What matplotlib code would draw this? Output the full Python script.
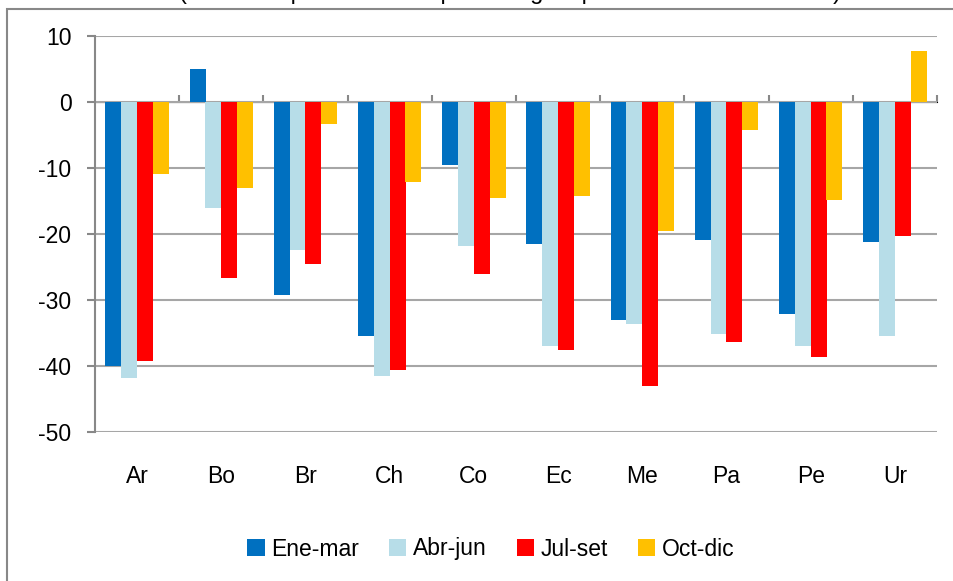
import numpy as np
import matplotlib
matplotlib.use("Agg")
import matplotlib.pyplot as plt
from matplotlib.patches import Rectangle

plt.rcParams['font.family'] = ['Liberation Sans', 'DejaVu Sans']
plt.rcParams['axes.unicode_minus'] = False

# datos: variación porcentual respecto a igual período del año anterior
paises = ['Ar', 'Bo', 'Br', 'Ch', 'Co', 'Ec', 'Me', 'Pa', 'Pe', 'Ur']
trimestres = ['Ene-mar', 'Abr-jun', 'Jul-set', 'Oct-dic']
ene_mar = [-40.0, 5.0, -29.3, -35.4, -9.6, -21.5, -33.0, -20.9, -32.1, -21.2]
abr_jun = [-41.8, -16.0, -22.4, -41.5, -21.8, -36.9, -33.6, -35.1, -36.9, -35.4]
jul_set = [-39.3, -26.6, -24.5, -40.6, -26.0, -37.5, -43.0, -36.3, -38.7, -20.3]
oct_dic = [-10.9, -13.0, -3.3, -12.1, -14.5, -14.2, -19.6, -4.2, -14.8, 7.7]
series = [ene_mar, abr_jun, jul_set, oct_dic]
colores = ['#0070C0', '#B7DDE8', '#FF0000', '#FFC000']

GRIS = '#888888'
FS = 16.5

fig = plt.figure(figsize=(9.54, 5.81), dpi=100)
ax = fig.add_axes([95 / 954, 1 - 432 / 581, 842 / 954, 396 / 581])

x = np.arange(len(paises))
ancho = 0.1875
for i, (vals, col, nombre) in enumerate(zip(series, colores, trimestres)):
    ax.bar(x + (i - 1.5) * ancho, vals, width=ancho * 1.02, color=col,
           label=nombre, zorder=3, linewidth=0)

ax.set_xlim(-0.5, len(paises) - 0.5)
ax.set_ylim(-50, 10)
ax.set_yticks(np.arange(-50, 11, 10))
ax.grid(axis='y', color='#a6a6a6', linewidth=1.5, zorder=0)
ax.set_axisbelow(True)

for s in ['top', 'right', 'bottom']:
    ax.spines[s].set_visible(False)
ax.spines['left'].set_color(GRIS)
ax.spines['left'].set_linewidth(1.5)

ax.tick_params(axis='y', direction='out', length=6, width=1.5, color=GRIS,
               labelsize=FS, pad=11)
ax.set_xticks(x)
ax.set_xticklabels(paises)
ax.tick_params(axis='x', length=0, labelsize=FS, pad=24)

# eje horizontal en cero con marcas entre grupos
ymin, ymax = ax.get_ylim()
eje0 = ax.secondary_xaxis((0 - ymin) / (ymax - ymin))
eje0.set_xticks(np.arange(len(paises)) + 0.5)
eje0.set_xticklabels([])
eje0.tick_params(direction='out', length=5, width=1.5, color=GRIS)
eje0.spines['bottom'].set_color(GRIS)
eje0.spines['bottom'].set_linewidth(2.5)
eje0.spines['bottom'].set_zorder(4)

fig.legend(loc='center', bbox_to_anchor=(491 / 954, 1 - 549 / 581), ncol=4,
           frameon=False, fontsize=FS, handlelength=0.75, handleheight=0.75,
           handletextpad=0.3, columnspacing=1.3)

# marco del gráfico
fig.add_artist(Rectangle((7 / 954, -0.1), 1.2, 1.1 - 9 / 581,
                         transform=fig.transFigure, fill=False,
                         edgecolor=GRIS, linewidth=1.5))

# título cortado en el borde superior, como en el original
fig.text(510 / 954, 1 + 1 / 581,
         '(Variación porcentual respecto a igual período del año anterior)',
         ha='center', va='baseline', fontsize=17)

fig.savefig('out.png', dpi=100)
